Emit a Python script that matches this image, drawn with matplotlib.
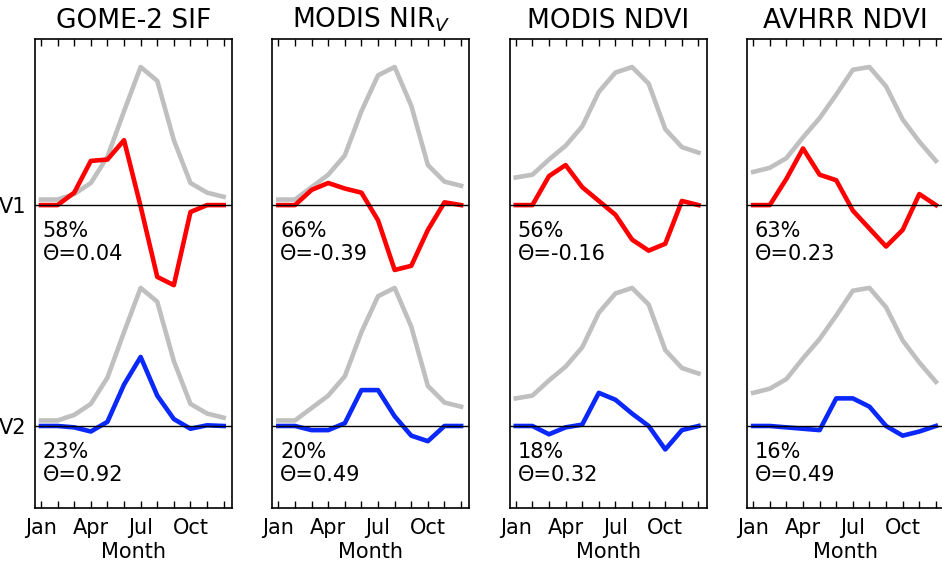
import numpy as np
import matplotlib.pyplot as plt

months = np.arange(1, 13)
month_labels = ["Jan", "", "", "Apr", "", "", "Jul", "", "", "Oct", "", ""]

titles = ["GOME-2 SIF", "MODIS NIR$_V$", "MODIS NDVI", "AVHRR NDVI"]

# mean seasonal cycle of each product (normalised to its peak)
mean_sif = [0.04, 0.04, 0.08, 0.16, 0.35, 0.68, 1.00, 0.90, 0.47, 0.16, 0.09, 0.06]
mean_nirv = [0.04, 0.04, 0.13, 0.22, 0.36, 0.68, 0.94, 1.00, 0.72, 0.29, 0.17, 0.14]
mean_ndvi = [0.20, 0.22, 0.33, 0.43, 0.57, 0.82, 0.96, 1.00, 0.88, 0.55, 0.42, 0.38]
mean_avhrr = [0.24, 0.27, 0.34, 0.49, 0.63, 0.80, 0.98, 1.00, 0.86, 0.62, 0.46, 0.32]

# first EOF mode
v1_sif = [0, 0, 0.09, 0.32, 0.33, 0.47, -0.01, -0.52, -0.58, -0.05, 0, 0]
v1_nirv = [0, 0, 0.11, 0.16, 0.12, 0.09, -0.11, -0.47, -0.44, -0.18, 0.02, 0]
v1_ndvi = [0, 0, 0.21, 0.29, 0.13, 0.03, -0.07, -0.25, -0.33, -0.28, 0.03, 0]
v1_avhrr = [0, 0, 0.19, 0.41, 0.22, 0.18, -0.04, -0.17, -0.30, -0.18, 0.08, 0]

# second EOF mode
v2_sif = [0, 0, -0.01, -0.04, 0.03, 0.30, 0.50, 0.22, 0.05, -0.02, 0.005, 0]
v2_nirv = [0, 0, -0.03, -0.03, 0.02, 0.26, 0.26, 0.07, -0.07, -0.11, 0, 0]
v2_ndvi = [0, 0, -0.06, -0.01, 0.01, 0.24, 0.19, 0.09, 0, -0.17, -0.03, 0]
v2_avhrr = [0, 0, -0.01, -0.02, -0.03, 0.20, 0.20, 0.14, 0, -0.07, -0.04, 0]

v1_frac = ["58%", "66%", "56%", "63%"]
v1_theta = ["0.04", "-0.39", "-0.16", "0.23"]
v2_frac = ["23%", "20%", "18%", "16%"]
v2_theta = ["0.92", "0.49", "0.32", "0.49"]

means = [mean_sif, mean_nirv, mean_ndvi, mean_avhrr]
mode1 = [v1_sif, v1_nirv, v1_ndvi, v1_avhrr]
mode2 = [v2_sif, v2_nirv, v2_ndvi, v2_avhrr]

offset = -1.6  # vertical shift of the second mode

W, H = 942, 565
fig = plt.figure(figsize=(W / 100, H / 100), dpi=100)

for i in range(4):
    left = 35 + i * 237.4
    ax = fig.add_axes([left / W, 57 / H, 197 / W, 469 / H])

    mean = np.array(means[i])
    ax.plot(months, mean, color="#bfbfbf", lw=3.3)
    ax.plot(months, mean + offset, color="#bfbfbf", lw=3.3)
    ax.plot(months, mode1[i], color="#ff0000", lw=3.3)
    ax.plot(months, np.array(mode2[i]) + offset, color="#0a28fa", lw=3.3)
    ax.axhline(0, color="k", lw=1)
    ax.axhline(offset, color="k", lw=1)

    ax.text(1.1, -0.115, v1_frac[i] + "\nΘ=" + v1_theta[i], fontsize=15,
            va="top", ha="left", linespacing=1.2)
    ax.text(1.1, offset - 0.115, v2_frac[i] + "\nΘ=" + v2_theta[i], fontsize=15,
            va="top", ha="left", linespacing=1.2)

    ax.set_xlim(0.64, 12.5)
    ax.set_ylim(offset - 0.594, 1.203)
    ax.set_xticks(months)
    ax.set_xticklabels(month_labels, fontsize=15)
    ax.tick_params(axis="x", direction="in", top=True, length=5, width=1, pad=7)
    if i == 0:
        ax.set_yticks([0, offset])
        ax.set_yticklabels(["V1", "V2"], fontsize=15)
        ax.tick_params(axis="y", length=0, pad=6)
    else:
        ax.set_yticks([])
    for s in ax.spines.values():
        s.set_linewidth(1.2)
    ax.set_xlabel("Month", fontsize=15, labelpad=3)
    ax.set_title(titles[i], fontsize=19, pad=8)

plt.savefig("out.png", dpi=100)
